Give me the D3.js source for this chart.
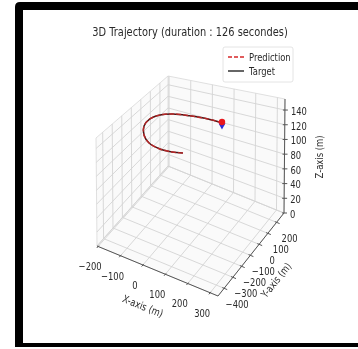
<!DOCTYPE html>
<html>
<head>
<meta charset="utf-8">
<script src="https://cdn.jsdelivr.net/npm/d3@7"></script>
<style>
  html, body { margin: 0; padding: 0; background: #ffffff; overflow: hidden; }
  svg { display: block; }
  text { font-family: "DejaVu Sans", sans-serif; fill: #2a2a2a; }
</style>
</head>
<body>
<svg id="chart" width="358" height="349"></svg>
<script>
// ---- data ----
const titleText = "3D Trajectory (duration : 126 secondes)";
const xTicks = [-200, -100, 0, 100, 200, 300];
const yTicks = [-400, -300, -200, -100, 0, 100, 200];
const zTicks = [0, 20, 40, 60, 80, 100, 120, 140];
const xDomain = [-205, 335];
const yDomain = [-470, 285];
const zDomain = [0, 155];

// target path (m)
const targetX = [71, 29, -24, -83, -130, -164, -170, -149, -107, -38, 35, 105];
const targetY = [-203, -220, -224, -199, -142, -62, 14, 73, 111, 132, 144, 142];
const targetZ = [125, 125, 125, 125, 125, 125, 125, 125, 125, 125, 125, 125];
// predicted path (m)
const predX = [71, 29, -24, -83, -130, -164, -170, -149, -107, -38, 35, 105];
const predY = [-203, -220, -224, -199, -142, -62, 14, 73, 111, 132, 144, 142];
const predZ = [125, 125, 125, 125, 125, 125, 125, 125, 125, 125, 125, 125];
// end positions
const predEnd = [105, 142, 126];
const targetEnd = [105, 142, 121];

// ---- projection of the axes box onto the screen ----
const su = d3.scaleLinear().domain(xDomain).range([0, 1]);
const sv = d3.scaleLinear().domain(yDomain).range([0, 1]);
const sw = d3.scaleLinear().domain(zDomain).range([0, 1]);

// screen positions of the box corners, keyed by (u v w)
const corner = {
  "000": [97, 246], "100": [218, 296], "110": [284, 213], "010": [168, 166],
  "001": [96, 138], "101": [218, 172], "111": [285, 99], "011": [168, 76]
};
function lerp(a, b, t) { return [a[0] + (b[0] - a[0]) * t, a[1] + (b[1] - a[1]) * t]; }
function project(x, y, z) {
  const u = su(x), v = sv(y), w = sw(z);
  const b0 = lerp(lerp(corner["000"], corner["100"], u), lerp(corner["010"], corner["110"], u), v);
  const b1 = lerp(lerp(corner["001"], corner["101"], u), lerp(corner["011"], corner["111"], u), v);
  return lerp(b0, b1, w);
}

const svg = d3.select("#chart");
svg.append("defs").append("filter").attr("id", "soft")
  .append("feGaussianBlur").attr("stdDeviation", 0.3);

// ---- frame: black band on the top, left and bottom ----
svg.append("path")
  .attr("d", "M15,7 Q15,2 20,2 L358,2 L358,10 L23,10 L23,343 L358,343 L358,347 L15,347 Z")
  .attr("fill", "#000");

const root = svg.append("g").attr("filter", "url(#soft)");

function label(g, x, y, s, opt) {
  opt = opt || {};
  return g.append("text")
    .attr("transform", `translate(${x},${y}) rotate(${opt.rot || 0}) scale(${opt.sx || 0.8},1)`)
    .attr("text-anchor", opt.anchor || "middle")
    .attr("dominant-baseline", "central")
    .style("font-size", (opt.fs || 10.5) + "px")
    .text(s);
}

const [x0, x1] = xDomain, [y0, y1] = yDomain, [z0, z1] = zDomain;
const lineGen = d3.line().x(p => p[0]).y(p => p[1]);

// ---- panes ----
const panes = root.append("g");
const paneDefs = [
  [[x0, y0, z0], [x1, y0, z0], [x1, y1, z0], [x0, y1, z0]],   // floor
  [[x0, y1, z0], [x1, y1, z0], [x1, y1, z1], [x0, y1, z1]],   // back wall
  [[x0, y0, z0], [x0, y1, z0], [x0, y1, z1], [x0, y0, z1]]    // side wall
];
paneDefs.forEach(p => {
  panes.append("path").attr("d", lineGen(p.map(q => project(...q))) + "Z")
    .attr("fill", "#fafafa").attr("stroke", "#d8d8d8").attr("stroke-width", 0.8);
});

// ---- grid ----
const grid = root.append("g").attr("stroke", "#d4d4d4").attr("stroke-width", 0.9).attr("fill", "none");
function seg(g, a, b) { g.append("path").attr("d", lineGen([project(...a), project(...b)])); }
xTicks.forEach(x => { seg(grid, [x, y0, z0], [x, y1, z0]); seg(grid, [x, y1, z0], [x, y1, z1]); });
yTicks.forEach(y => { seg(grid, [x0, y, z0], [x1, y, z0]); seg(grid, [x0, y, z0], [x0, y, z1]); });
zTicks.forEach(z => { seg(grid, [x0, y1, z], [x1, y1, z]); seg(grid, [x0, y0, z], [x0, y1, z]); });

// ---- axes ----
const axes = root.append("g").attr("stroke", "#555").attr("stroke-width", 1).attr("fill", "none");
seg(axes, [x0, y0, z0], [x1, y0, z0]);
seg(axes, [x1, y0, z0], [x1, y1, z0]);
seg(axes, [x1, y1, z0], [x1, y1, z1]);

const ticks = root.append("g").attr("stroke", "#555").attr("stroke-width", 1);
const lbl = root.append("g");
const fmt = v => String(v).replace("-", "\u2212");
xTicks.forEach(x => {
  seg(ticks, [x, y0 + 8, z0], [x, y0 - 14, z0]);
  const p = project(x, y0, z0);
  label(lbl, p[0] - 8, p[1] + 20, fmt(x));
});
yTicks.forEach(y => {
  seg(ticks, [x1 - 8, y, z0], [x1 + 14, y, z0]);
  const p = project(x1, y, z0);
  label(lbl, p[0] + 13, p[1] + 16, fmt(y));
});
zTicks.forEach(z => {
  const p = project(x1, y1, z);
  ticks.append("line").attr("x1", p[0] - 2).attr("x2", p[0] + 3).attr("y1", p[1]).attr("y2", p[1]);
  label(lbl, p[0] + 6, p[1] + 1, String(z), { anchor: "start" });
});
label(lbl, 143, 306, "X-axis (m)", { rot: 22 });
label(lbl, 276, 280, "Y-axis (m)", { rot: -51 });
label(lbl, 319, 157, "Z-axis (m)", { rot: -90 });

// ---- trajectories ----
const targetPts = targetX.map((x, i) => project(x, targetY[i], targetZ[i]));
const predPts = predX.map((x, i) => project(x, predY[i], predZ[i]));
const curve = d3.line().x(p => p[0]).y(p => p[1]).curve(d3.curveCatmullRom.alpha(0.5));
root.append("path").attr("d", curve(targetPts)).attr("fill", "none")
  .attr("stroke", "#4a1515").attr("stroke-width", 1.5);
root.append("path").attr("d", curve(predPts)).attr("fill", "none")
  .attr("stroke", "#c8282a").attr("stroke-width", 1.5).attr("stroke-dasharray", "5,2").attr("opacity", 0.85);

// end markers
const te = project(...targetEnd);
root.append("path").attr("d", d3.symbol(d3.symbolTriangle, 20)())
  .attr("transform", `translate(${te[0]},${te[1]}) rotate(180)`).attr("fill", "#2a2ad8");
const pe = project(...predEnd);
root.append("circle").attr("cx", pe[0]).attr("cy", pe[1]).attr("r", 3.2).attr("fill", "#e8181c");

// ---- title ----
label(root, 190, 32, titleText, { fs: 12, sx: 0.82 });

// ---- legend ----
const leg = root.append("g");
leg.append("rect").attr("x", 223).attr("y", 47).attr("width", 70).attr("height", 35).attr("rx", 2)
  .attr("fill", "#fff").attr("stroke", "#dddddd").attr("stroke-width", 0.8);
leg.append("line").attr("x1", 228).attr("x2", 244).attr("y1", 57).attr("y2", 57)
  .attr("stroke", "#d62728").attr("stroke-width", 1.3).attr("stroke-dasharray", "4,2");
leg.append("line").attr("x1", 228).attr("x2", 244).attr("y1", 71).attr("y2", 71)
  .attr("stroke", "#333").attr("stroke-width", 1.5);
label(leg, 249, 57, "Prediction", { anchor: "start" });
label(leg, 249, 71, "Target", { anchor: "start" });
</script>
</body>
</html>
